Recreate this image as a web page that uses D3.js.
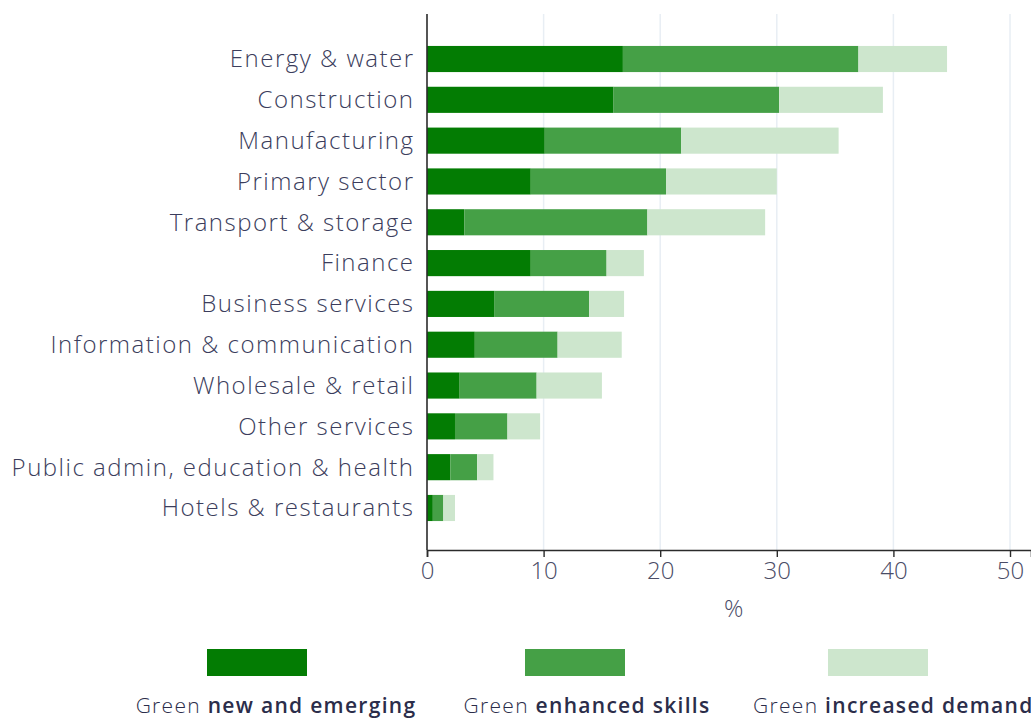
<!DOCTYPE html>
<html>
<head>
<meta charset="utf-8">
<script src="https://cdn.jsdelivr.net/npm/d3@7"></script>
<style>
  body { margin: 0; background: #fff; }
  svg { display: block; font-family: "Open Sans", Lato, sans-serif; }
</style>
</head>
<body>
<svg></svg>
<script>
const WIDTH = 1031;
const HEIGHT = 718;

const categories = [
  'Energy & water', 'Construction', 'Manufacturing', 'Primary sector',
  'Transport & storage', 'Finance', 'Business services',
  'Information & communication', 'Wholesale & retail', 'Other services',
  'Public admin, education & health', 'Hotels & restaurants'
];
const newEmerging = [16.8, 16.0, 10.1, 8.9, 3.2, 8.9, 5.8, 4.1, 2.8, 2.4, 2.0, 0.5];
const enhancedSkills = [20.2, 14.2, 11.7, 11.6, 15.7, 6.5, 8.1, 7.1, 6.6, 4.5, 2.3, 0.9];
const increasedDemand = [7.6, 8.9, 13.5, 9.5, 10.1, 3.2, 3.0, 5.5, 5.6, 2.8, 1.4, 1.0];
const xTicks = [0, 10, 20, 30, 40, 50];

const seriesKeys = ['new', 'enhanced', 'increased'];
const seriesColors = ['#037c03', '#45a046', '#cde6cd'];
const legendBold = ['new and emerging', 'enhanced skills', 'increased demand'];

const rows = categories.map((c, i) => ({
  cat: c, new: newEmerging[i], enhanced: enhancedSkills[i], increased: increasedDemand[i]
}));

const svg = d3.select('svg')
    .attr('width', WIDTH)
    .attr('height', HEIGHT);

const x = d3.scaleLinear().domain([0, 51.8]).range([427, 1031]);
const y = d3.scaleBand().domain(categories).range([38.6, 528.4])
    .paddingInner(0.36).paddingOuter(0.18);
const color = d3.scaleOrdinal().domain(seriesKeys).range(seriesColors);

// gridlines
svg.append('g')
  .selectAll('line')
  .data(xTicks.slice(1))
  .join('line')
    .attr('x1', d => x(d)).attr('x2', d => x(d))
    .attr('y1', 14).attr('y2', 550)
    .attr('stroke', '#e8eef4')
    .attr('stroke-width', 1.5);

// stacked bars
const stacked = d3.stack().keys(seriesKeys)(rows);
svg.append('g')
  .selectAll('g')
  .data(stacked)
  .join('g')
    .attr('fill', d => color(d.key))
  .selectAll('rect')
  .data(d => d)
  .join('rect')
    .attr('x', d => x(d[0]))
    .attr('width', d => x(d[1]) - x(d[0]))
    .attr('y', d => y(d.data.cat))
    .attr('height', y.bandwidth());

// x axis
const xAxis = svg.append('g')
    .attr('transform', 'translate(0,550)')
    .call(d3.axisBottom(x).tickValues(xTicks).tickSize(7).tickPadding(5));
xAxis.select('.domain').attr('stroke', '#2b2b2b').attr('stroke-width', 1.6);
xAxis.selectAll('.tick line').attr('stroke', '#2b2b2b').attr('stroke-width', 1.4);
xAxis.selectAll('.tick text')
    .attr('font-size', 24)
    .attr('font-family', '"Open Sans", sans-serif')
    .attr('font-weight', 300)
    .attr('fill', '#4a4c66');

svg.append('text')
    .attr('x', x(26.3)).attr('y', 617)
    .attr('text-anchor', 'middle')
    .attr('font-size', 24)
    .attr('font-weight', 300)
    .attr('fill', '#4a4c66')
    .text('%');

// y axis line
svg.append('line')
    .attr('x1', x(0)).attr('x2', x(0))
    .attr('y1', 14).attr('y2', 550)
    .attr('stroke', '#2b2b2b').attr('stroke-width', 1.6);

// category labels
svg.append('g')
  .selectAll('text')
  .data(categories)
  .join('text')
    .attr('x', 414.5)
    .attr('y', d => y(d) + y.bandwidth() / 2)
    .attr('dy', '0.35em')
    .attr('text-anchor', 'end')
    .attr('font-size', 24)
    .attr('font-weight', 300)
    .attr('letter-spacing', 1.5)
    .attr('fill', '#3b3d5c')
    .text(d => d);

// legend
const legendX = [207, 525, 828];
const legendTextX = [276, 587, 753];
const legendAnchor = ['middle', 'middle', 'start'];
const legend = svg.append('g')
  .selectAll('g')
  .data(seriesKeys)
  .join('g');
legend.append('rect')
    .attr('x', (d, i) => legendX[i])
    .attr('y', 649)
    .attr('width', 100)
    .attr('height', 27)
    .attr('fill', d => color(d));
const lt = legend.append('text')
    .attr('x', (d, i) => legendTextX[i])
    .attr('y', 713)
    .attr('text-anchor', (d, i) => legendAnchor[i])
    .attr('font-size', 21)
    .attr('letter-spacing', 1.3)
    .attr('fill', '#2b2d4a');
lt.append('tspan').attr('font-weight', 300).text('Green ');
lt.append('tspan').attr('font-weight', 600).text((d, i) => legendBold[i]);
</script>
</body>
</html>
